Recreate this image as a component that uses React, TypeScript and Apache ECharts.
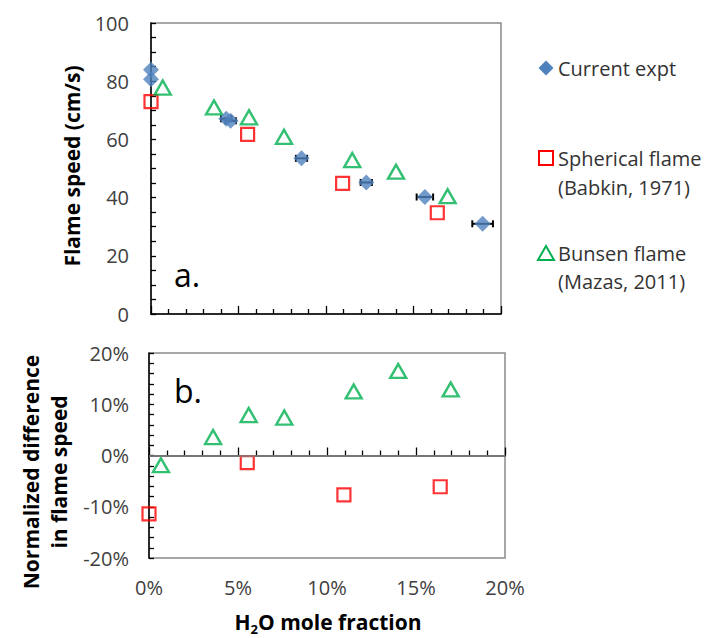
import React, { useEffect, useRef } from "react";
import * as echarts from "echarts";

// H2O mole fraction (%) and flame speed (cm/s), current experiment
const exptX = [0.0, 0.0, 4.3, 4.55, 8.6, 12.3, 15.65, 18.95];
const exptY = [83.9, 80.7, 67.1, 66.4, 53.5, 45.2, 40.2, 31.0];
// horizontal uncertainty in H2O mole fraction (%)
const exptXErr = [0, 0, 0.3, 0.3, 0.32, 0.32, 0.47, 0.59];

// Spherical flame (Babkin, 1971)
const sphX = [0.0, 5.52, 10.95, 16.36];
const sphY = [73.0, 61.7, 44.9, 34.8];
const sphDiff = [-11.4, -1.4, -7.7, -6.1];

// Bunsen flame (Mazas, 2011)
const bunX = [0.67, 3.6, 5.6, 7.6, 11.5, 14.0, 16.95];
const bunY = [77.8, 71.0, 67.6, 60.9, 52.9, 48.9, 40.5];
const bunDiff = [-1.9, 3.6, 7.9, 7.4, 12.5, 16.5, 12.9];

const legendNames = ["Current expt", "Spherical flame\n(Babkin, 1971)", "Bunsen flame\n(Mazas, 2011)"];

const FONT = "'Open Sans', 'Noto Sans', sans-serif";
const BLUE = "#4f81bd";
const RED = "#ff0000";
const GREEN = "#00b050";
const LABEL = "#404040";

const zip = (xs: number[], ys: number[]) => xs.map((x, i) => [x, ys[i]]);

export default function App() {
  const ref = useRef<HTMLDivElement>(null);

  useEffect(() => {
    if (!ref.current) return;
    const chart = echarts.init(ref.current, null, { renderer: "svg" });

    const errData = exptX
      .map((x, i) => [x, exptY[i], exptXErr[i]])
      .filter((d) => d[2] > 0);

    const axisLine = { show: true, lineStyle: { color: "#000", width: 1.5 } };
    const labelStyle = { color: LABEL, fontSize: 20, fontFamily: FONT };
    const tickLine = { color: "#000", width: 1.3 };

    const option: any = {
      animation: false,
      backgroundColor: "#fff",
      grid: [
        { left: 151, top: 23, width: 350, height: 291, show: true, borderColor: "#8a8a8a", borderWidth: 1.5 },
        { left: 149, top: 353, width: 356, height: 205, show: true, borderColor: "#8a8a8a", borderWidth: 1.5 },
      ],
      xAxis: [
        {
          gridIndex: 0, type: "value", min: 0, max: 20, interval: 5,
          axisLine, splitLine: { show: false },
          axisTick: { inside: true, length: 8, lineStyle: tickLine },
          minorTick: { show: true, splitNumber: 5, length: 5, lineStyle: tickLine },
          axisLabel: { show: false },
        },
        {
          gridIndex: 1, type: "value", min: 0, max: 20, interval: 5,
          axisLine, splitLine: { show: false },
          axisTick: { inside: true, length: 8, lineStyle: tickLine },
          minorTick: { show: true, splitNumber: 5, length: 5, lineStyle: tickLine },
          axisLabel: { ...labelStyle, margin: 19, formatter: "{value}%" },
        },
      ],
      yAxis: [
        {
          gridIndex: 0, type: "value", min: 0, max: 100, interval: 20,
          axisLine, splitLine: { show: false },
          axisTick: { inside: true, length: 5, lineStyle: tickLine },
          minorTick: { show: true, splitNumber: 4, length: 5, lineStyle: tickLine },
          axisLabel: { ...labelStyle, margin: 22 },
        },
        {
          gridIndex: 1, type: "value", min: -20, max: 20, interval: 10,
          axisLine, splitLine: { show: false },
          axisTick: { inside: true, length: 5, lineStyle: tickLine },
          minorTick: { show: true, splitNumber: 5, length: 5, lineStyle: tickLine },
          axisLabel: { ...labelStyle, margin: 20, formatter: "{value}%" },
        },
      ],
      series: [
        {
          name: "x error",
          type: "custom",
          xAxisIndex: 0, yAxisIndex: 0,
          z: 1,
          data: errData,
          encode: { x: 0, y: 1 },
          renderItem: (params: any, api: any) => {
            const x = api.value(0), y = api.value(1), e = api.value(2);
            const a = api.coord([x - e, y]);
            const b = api.coord([x + e, y]);
            const h = 3.5;
            const st = { stroke: "#000", lineWidth: 2 };
            return {
              type: "group",
              children: [
                { type: "line", shape: { x1: a[0], y1: a[1], x2: b[0], y2: b[1] }, style: st },
                { type: "line", shape: { x1: a[0], y1: a[1] - h, x2: a[0], y2: a[1] + h }, style: st },
                { type: "line", shape: { x1: b[0], y1: b[1] - h, x2: b[0], y2: b[1] + h }, style: st },
              ],
            };
          },
        },
        {
          name: legendNames[1], type: "scatter", xAxisIndex: 0, yAxisIndex: 0, z: 3,
          symbol: "rect", symbolSize: 13,
          itemStyle: { color: "rgba(255,255,255,0)", borderColor: RED, borderWidth: 2.2 },
          data: zip(sphX, sphY),
        },
        {
          name: legendNames[2], type: "scatter", xAxisIndex: 0, yAxisIndex: 0, z: 3,
          symbol: "triangle", symbolSize: [16, 14],
          itemStyle: { color: "rgba(255,255,255,0)", borderColor: GREEN, borderWidth: 2.4 },
          data: zip(bunX, bunY),
        },
        {
          name: legendNames[0], type: "scatter", xAxisIndex: 0, yAxisIndex: 0, z: 4,
          symbol: "diamond", symbolSize: [16, 16],
          itemStyle: { color: BLUE },
          data: zip(exptX, exptY),
        },
        {
          name: legendNames[1] + " diff", type: "scatter", xAxisIndex: 1, yAxisIndex: 1, z: 3,
          symbol: "rect", symbolSize: 13,
          itemStyle: { color: "rgba(255,255,255,0)", borderColor: RED, borderWidth: 2.2 },
          data: zip(sphX, sphDiff),
        },
        {
          name: legendNames[2] + " diff", type: "scatter", xAxisIndex: 1, yAxisIndex: 1, z: 3,
          symbol: "triangle", symbolSize: [16, 14],
          itemStyle: { color: "rgba(255,255,255,0)", borderColor: GREEN, borderWidth: 2.4 },
          data: zip(bunX, bunDiff),
          markLine: {
            silent: true, symbol: "none", label: { show: false },
            lineStyle: { color: "#8a8a8a", width: 1.5, type: "solid" },
            data: [{ yAxis: 0 }],
          },
        },
      ],
      graphic: [
        // axis titles
        {
          type: "text", x: 72, y: 166, rotation: Math.PI / 2,
          style: { text: "Flame speed (cm/s)", font: `bold 21px ${FONT}`, fill: "#000", align: "center", verticalAlign: "middle" },
        },
        {
          type: "text", x: 45, y: 472, rotation: Math.PI / 2,
          style: {
            text: "Normalized difference\nin flame speed", font: `bold 21px ${FONT}`, fill: "#000",
            align: "center", verticalAlign: "middle", lineHeight: 28,
          },
        },
        {
          type: "text", x: 328, y: 622,
          style: {
            text: "{a|H}{s|2}{a|O mole fraction}",
            align: "center", verticalAlign: "middle",
            rich: {
              a: { font: `bold 21px ${FONT}`, fill: "#000", lineHeight: 26 },
              s: { font: `bold 13px ${FONT}`, fill: "#000", lineHeight: 26, verticalAlign: "bottom", padding: [5, 0, 0, 0] },
            },
          },
        },
        // panel tags
        { type: "text", x: 174, y: 274, style: { text: "a.", font: `32px ${FONT}`, fill: "#000", verticalAlign: "middle" } },
        { type: "text", x: 174, y: 390, style: { text: "b.", font: `32px ${FONT}`, fill: "#000", verticalAlign: "middle" } },
        // legend
        {
          type: "polygon", shape: { points: [[546, 60.5], [553.5, 68], [546, 75.5], [538.5, 68]] },
          style: { fill: BLUE },
        },
        { type: "text", x: 558, y: 68, style: { text: legendNames[0], font: `20px ${FONT}`, fill: "#333", verticalAlign: "middle" } },
        {
          type: "rect", shape: { x: 539, y: 151, width: 14, height: 14 },
          style: { fill: "none", stroke: RED, lineWidth: 2 },
        },
        {
          type: "text", x: 558, y: 173,
          style: { text: legendNames[1], font: `20px ${FONT}`, fill: "#333", verticalAlign: "middle", lineHeight: 29 },
        },
        {
          type: "polygon", shape: { points: [[546, 246], [554, 260], [538, 260]] },
          style: { fill: "none", stroke: GREEN, lineWidth: 2 },
        },
        {
          type: "text", x: 558, y: 267,
          style: { text: legendNames[2], font: `20px ${FONT}`, fill: "#333", verticalAlign: "middle", lineHeight: 28 },
        },
      ],
    };

    chart.setOption(option);
    return () => chart.dispose();
  }, []);

  return <div ref={ref} style={{ position: "fixed", left: 0, top: 0, width: 704, height: 638 }} />;
}
